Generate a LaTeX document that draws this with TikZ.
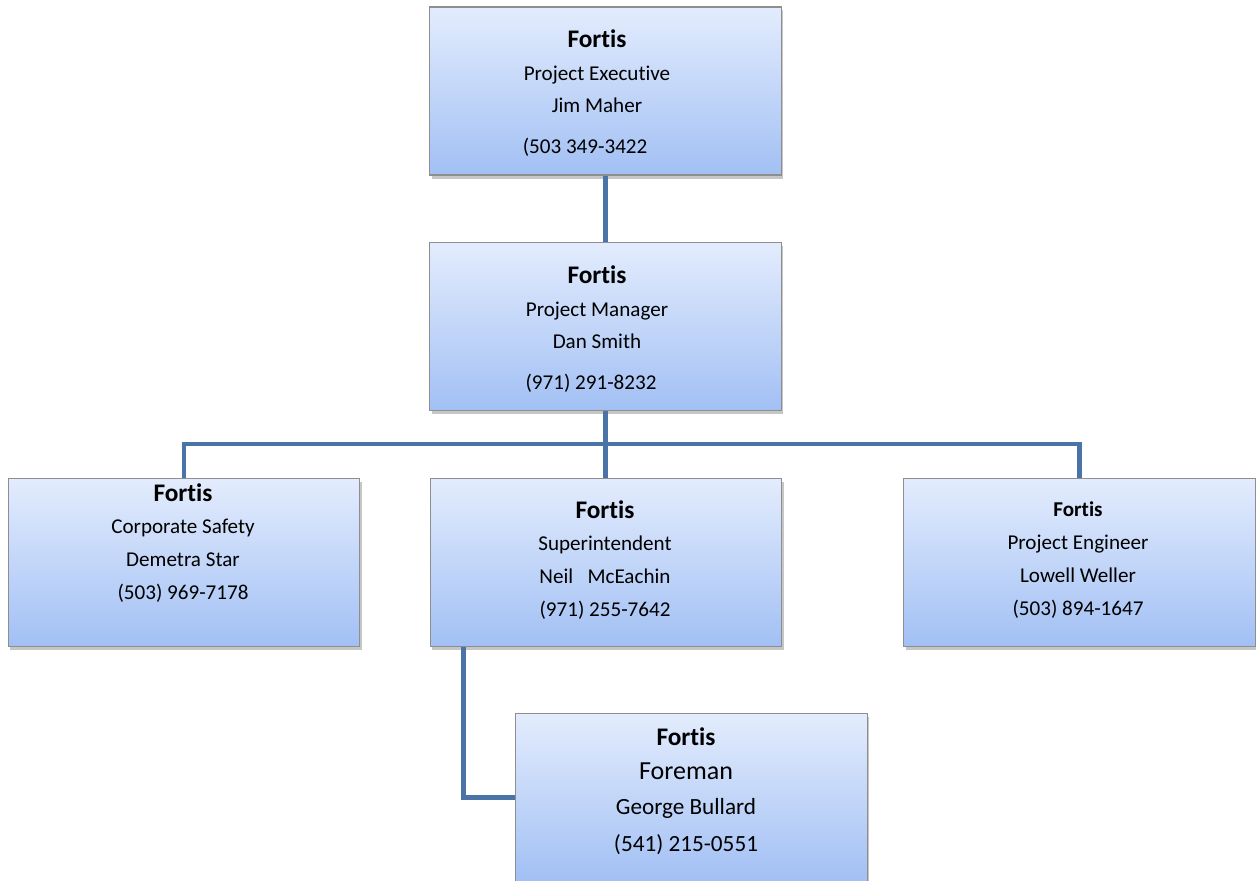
\documentclass[tikz,border=0pt]{standalone}
\usepackage{fontspec}
\setmainfont[Ligatures=NoCommon]{Carlito}
\usetikzlibrary{shadows}
\definecolor{cardtop}{HTML}{E3ECFD}
\definecolor{cardbottom}{HTML}{A2C0F4}
\definecolor{cardedge}{HTML}{8E8E8E}
\definecolor{linkblue}{HTML}{4A73A8}
\tikzset{
  card/.style={draw=cardedge, line width=0.8pt, top color=cardtop, bottom color=cardbottom,
    minimum width=8.78cm, minimum height=4.2cm,
    drop shadow={opacity=0.45, shadow xshift=1.5pt, shadow yshift=-2.5pt}},
  cardtext/.style={align=center, inner sep=0pt, font={\fontsize{15}{23.4}\selectfont}},
  link/.style={draw=linkblue, line width=3.5pt},
}
\newcommand{\firm}[1][18]{{\fontsize{#1}{23.4}\selectfont\bfseries Fortis}}
\begin{document}
\begin{tikzpicture}[x=0.025cm, y=-0.025cm]
    \useasboundingbox (0,0) rectangle (1256,881);
    % boxes
    \node[card] (exec) at (605.5,91) {};
    \node[card] (mgr) at (605.5,326.5) {};
    \node[card] (safety) at (184,562.5) {};
    \node[card] (super) at (606,562.5) {};
    \node[card] (engr) at (1079.5,562.5) {};
    \node[card] (fore) at (691.5,797.5) {};
    % texts
    \node[cardtext] (exec-t) at (597,93) {\firm\\ Project Executive\\ Jim Maher\\[5.6pt] (503 349-3422\hspace*{17pt}};
    \node[cardtext] (mgr-t) at (597,329) {\firm\\ Project Manager\\ Dan Smith\\[5.6pt] (971) 291-8232\hspace*{8.5pt}};
    \node[cardtext] (safety-t) at (183,543) {\firm\\ Corporate Safety\\ Demetra Star\\ (503) 969-7178};
    \node[cardtext] (super-t) at (605,560) {\firm\\ Superintendent\\ Neil\ \ \ McEachin\\ (971) 255-7642};
    \node[cardtext] (engr-t) at (1078,560) {\firm[15]\\ Project Engineer\\ Lowell Weller\\ (503) 894-1647};
    \node[cardtext, font={\fontsize{16.5}{24.5}\selectfont}] (fore-t) at (686,791)
        {\firm\\ {\fontsize{18.5}{24.5}\selectfont Foreman}\\ George Bullard\\[2pt] (541) 215-0551};
    % connectors
    \coordinate (bus) at (605.5,444);
    \draw[link] (exec.south) -- (mgr.north);
    \draw[link] (mgr.south) -- (bus);
    \draw[link] (safety.north) |- (bus) -| (engr.north);
    \draw[link] (bus) -- (bus |- super.north);
    \draw[link] ([xshift=0.85cm]super.south west) |- (fore.west);
\end{tikzpicture}
\end{document}
